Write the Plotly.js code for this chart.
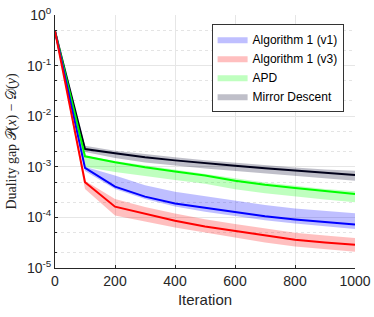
<!DOCTYPE html>
<html><head><meta charset="utf-8">
<script src="https://cdn.plot.ly/plotly-3.0.1.min.js"></script>
<style>html,body{margin:0;padding:0;background:#fff}#chart{width:374px;height:317px}</style>
</head><body><div id="chart"></div>
<script>
const iterations = [0,100,200,300,400,500,600,700,800,900,1000];

const v1Mean  = [0.48,9.5e-4,4.05e-4,2.57e-4,1.89e-4,1.54e-4,1.27e-4,1.05e-4,9.1e-5,8.0e-5,7.2e-5];
const v1Upper = [0.48,1.0e-3,6.7e-4,4.3e-4,3.2e-4,2.6e-4,2.1e-4,1.75e-4,1.5e-4,1.35e-4,1.21e-4];
const v1Lower = [0.48,8.3e-4,3.65e-4,2.3e-4,1.65e-4,1.3e-4,1.07e-4,8.8e-5,7.6e-5,6.6e-5,5.9e-5];

const v3Mean  = [0.48,4.95e-4,1.63e-4,1.17e-4,8.6e-5,6.6e-5,5.35e-5,4.3e-5,3.6e-5,3.2e-5,2.87e-5];
const v3Upper = [0.48,5.3e-4,2.3e-4,1.6e-4,1.2e-4,9.2e-5,7.4e-5,6.0e-5,5.0e-5,4.4e-5,3.9e-5];
const v3Lower = [0.48,3.65e-4,1.09e-4,8.3e-5,6.3e-5,4.9e-5,4.0e-5,3.2e-5,2.65e-5,2.35e-5,2.1e-5];

const apdMean  = [0.48,1.61e-3,1.23e-3,9.8e-4,8.1e-4,6.7e-4,5.3e-4,4.4e-4,3.8e-4,3.3e-4,2.9e-4];
const apdUpper = [0.48,1.65e-3,1.3e-3,1.07e-3,8.9e-4,7.4e-4,5.9e-4,4.9e-4,4.2e-4,3.65e-4,3.3e-4];
const apdLower = [0.48,9.9e-4,7.9e-4,6.6e-4,5.5e-4,4.6e-4,3.6e-4,3.0e-4,2.6e-4,2.25e-4,2.0e-4];

const mdMean  = [0.48,2.24e-3,1.85e-3,1.54e-3,1.34e-3,1.17e-3,1.05e-3,9.4e-4,8.4e-4,7.55e-4,6.9e-4];
const mdUpper = [0.48,2.6e-3,2.08e-3,1.76e-3,1.54e-3,1.35e-3,1.2e-3,1.08e-3,9.7e-4,8.8e-4,8.4e-4];
const mdLower = [0.48,1.95e-3,1.49e-3,1.22e-3,1.06e-3,9.3e-4,8.2e-4,7.3e-4,6.6e-4,5.9e-4,5.3e-4];

const names = ['Algorithm 1 (v1)','Algorithm 1 (v3)','APD','Mirror Descent'];
const yTickVals = [1e-5,1e-4,1e-3,1e-2,1e-1,1];
const yTickText = ['10<sup>-5</sup>','10<sup>-4</sup>','10<sup>-3</sup>','10<sup>-2</sup>','10<sup>-1</sup>','10<sup>0</sup>'];

const series = [
  {name:names[0], mean:v1Mean, up:v1Upper, lo:v1Lower, line:'#0000ff', fill:'rgba(0,0,255,0.25)'},
  {name:names[1], mean:v3Mean, up:v3Upper, lo:v3Lower, line:'#ff0000', fill:'rgba(255,0,0,0.25)'},
  {name:names[2], mean:apdMean, up:apdUpper, lo:apdLower, line:'#00ff00', fill:'rgba(0,255,0,0.25)'},
  {name:names[3], mean:mdMean, up:mdUpper, lo:mdLower, line:'#00001a', fill:'rgba(0,0,40,0.25)'}
];

const traces = [];
series.forEach(s => {
  traces.push({
    x: iterations.concat(iterations.slice().reverse()),
    y: s.up.concat(s.lo.slice().reverse()),
    type:'scatter', mode:'lines', fill:'toself', fillcolor:s.fill,
    line:{width:0, color:s.fill}, name:s.name, hoverinfo:'skip'
  });
});
[series[3], series[2], series[0], series[1]].forEach(s => {
  traces.push({x:iterations, y:s.mean, type:'scatter', mode:'lines',
    line:{color:s.line, width:2}, showlegend:false});
});

const layout = {
  width:374, height:317,
  margin:{l:55, r:19, t:15, b:49},
  paper_bgcolor:'#fff', plot_bgcolor:'#fff',
  font:{family:'Liberation Sans, Arial, sans-serif', size:14, color:'#262626'},
  showlegend:true,
  legend:{x:0.522, y:0.965, xanchor:'left', yanchor:'top', bgcolor:'#fff',
    bordercolor:'#333', borderwidth:1, font:{size:12, color:'#000'},
    tracegroupgap:0, itemwidth:30},
  xaxis:{range:[0,1000], dtick:200, tick0:0, showgrid:true, gridcolor:'#e6e6e6',
    zeroline:false, showline:true, linecolor:'#262626', linewidth:1,
    ticks:'inside', ticklen:3, tickcolor:'#262626', mirror:false,
    title:{text:'Iteration', font:{size:15, color:'#262626'}, standoff:6}},
  yaxis:{type:'log', range:[-5,0], tickmode:'array', tickvals:yTickVals, ticktext:yTickText,
    showgrid:true, gridcolor:'#e6e6e6', zeroline:false, showline:true,
    linecolor:'#262626', linewidth:1, ticks:'inside', ticklen:3, tickcolor:'#262626',
    minor:{showgrid:true, gridcolor:'#e4e4e4', griddash:'dot', gridwidth:1, ticks:'inside', ticklen:2, tickcolor:'#262626'},
    title:{text:'Duality gap 𝒫(<i>x</i>) − 𝒟(<i>y</i>)', font:{family:'Liberation Serif, DejaVu Serif, serif', size:14, color:'#262626'}, standoff:7}}
};

Plotly.newPlot('chart', traces, layout, {displayModeBar:false, staticPlot:true});
</script></body></html>
